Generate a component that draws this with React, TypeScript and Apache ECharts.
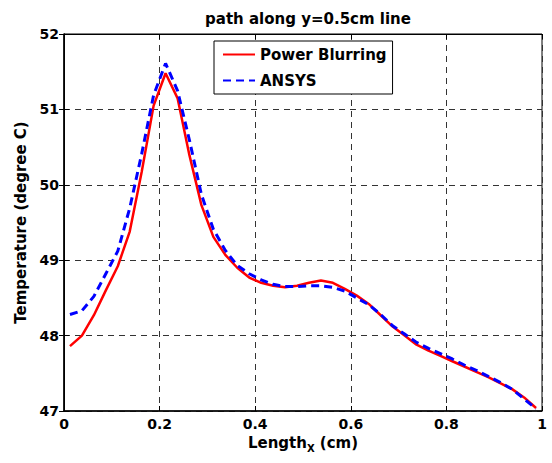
import React, { useEffect, useRef } from "react";
import * as echarts from "echarts";

const xValues = [
  0.0125, 0.0375, 0.0625, 0.0875, 0.1125, 0.1375, 0.1625, 0.1875, 0.2125, 0.2375,
  0.2625, 0.2875, 0.3125, 0.3375, 0.3625, 0.3875, 0.4125, 0.4375, 0.4625, 0.4875,
  0.5125, 0.5375, 0.5625, 0.5875, 0.6125, 0.6375, 0.6625, 0.6875, 0.7125, 0.7375,
  0.7625, 0.7875, 0.8125, 0.8375, 0.8625, 0.8875, 0.9125, 0.9375, 0.9625, 0.9875,
];

const powerBlurring = [
  47.86, 48.0, 48.27, 48.6, 48.92, 49.38, 50.17, 51.05, 51.48, 51.15,
  50.39, 49.73, 49.31, 49.07, 48.9, 48.77, 48.7, 48.66, 48.64, 48.66,
  48.7, 48.73, 48.7, 48.62, 48.53, 48.42, 48.27, 48.12, 48.0, 47.88,
  47.8, 47.73, 47.66, 47.59, 47.52, 47.45, 47.37, 47.29, 47.18, 47.04,
];

const ansys = [
  48.28, 48.33, 48.52, 48.82, 49.12, 49.69, 50.41, 51.19, 51.61, 51.25,
  50.59, 49.87, 49.41, 49.13, 48.93, 48.82, 48.74, 48.68, 48.65, 48.65,
  48.66, 48.66, 48.64, 48.59, 48.5, 48.41, 48.28, 48.13, 48.02, 47.91,
  47.83, 47.76, 47.69, 47.61, 47.54, 47.46, 47.38, 47.29, 47.16, 47.03,
];

const seriesNames = ["Power Blurring", "ANSYS"];
const titleText = "path along y=0.5cm line";
const yName = "Temperature (degree C)";

const FONT = "'DejaVu Sans', 'Liberation Sans', Arial, sans-serif";

export default function App() {
  const ref = useRef<HTMLDivElement>(null);
  useEffect(() => {
    if (!ref.current) return;
    const chart = echarts.init(ref.current, undefined, { renderer: "svg" });
    const gridLine = { show: true, lineStyle: { color: "#333", type: [6, 5] as any, width: 1 } };
    const tickStyle = { show: true, inside: true, length: 5, lineStyle: { color: "#000", width: 1 } };
    chart.setOption({
      animation: false,
      backgroundColor: "#fff",
      title: {
        text: titleText,
        left: 303,
        textAlign: "center",
        top: 6,
        textStyle: { fontFamily: FONT, fontWeight: "bold", fontSize: 15, color: "#000" },
      },
      grid: {
        left: 64,
        top: 34,
        right: 10,
        bottom: 52,
        show: true,
        borderColor: "#000",
        borderWidth: 1,
      },
      legend: {
        data: seriesNames,
        orient: "vertical",
        left: 214,
        top: 41,
        backgroundColor: "#fff",
        borderColor: "#000",
        borderWidth: 1,
        borderRadius: 0,
        padding: [6, 6, 6, 8],
        itemWidth: 32,
        itemHeight: 14,
        itemGap: 11,
        itemStyle: { opacity: 0 },
        textStyle: { fontFamily: FONT, fontWeight: "bold", fontSize: 15, color: "#000" },
      },
      xAxis: [
        {
          type: "value",
          min: 0,
          max: 1,
          interval: 0.2,
          name: "{a|Length}{b|X}{a| (cm)}",
          nameLocation: "middle",
          nameGap: 20,
          nameTextStyle: {
            rich: {
              a: { fontFamily: FONT, fontWeight: "bold", fontSize: 15, color: "#000", verticalAlign: "top" },
              b: { fontFamily: FONT, fontWeight: "bold", fontSize: 10, color: "#000", verticalAlign: "top", padding: [8, 0, 0, 0] },
            },
          },
          axisLine: { show: true, onZero: false, lineStyle: { color: "#000", width: 1.5 } },
          axisTick: tickStyle,
          axisLabel: {
            fontFamily: FONT,
            fontWeight: "bold",
            fontSize: 14,
            color: "#000",
            margin: 6,
            formatter: (v: number) => (v === 0 || v === 1 ? String(v) : v.toFixed(1)),
          },
          splitLine: gridLine,
        },
        {
          type: "value",
          position: "top",
          min: 0,
          max: 1,
          interval: 0.2,
          axisLine: { show: true, lineStyle: { color: "#000", width: 1 } },
          axisTick: tickStyle,
          axisLabel: { show: false },
          splitLine: { show: false },
        },
      ],
      yAxis: [
        {
          type: "value",
          min: 47,
          max: 52,
          interval: 1,
          name: yName,
          nameLocation: "middle",
          nameGap: 28,
          nameTextStyle: { fontFamily: FONT, fontWeight: "bold", fontSize: 15, color: "#000" },
          axisLine: { show: true, lineStyle: { color: "#000", width: 1.5 } },
          axisTick: tickStyle,
          axisLabel: { fontFamily: FONT, fontWeight: "bold", fontSize: 14, color: "#000", margin: 5 },
          splitLine: gridLine,
        },
        {
          type: "value",
          position: "right",
          min: 47,
          max: 52,
          interval: 1,
          axisLine: { show: true, lineStyle: { color: "#000", width: 1 } },
          axisTick: tickStyle,
          axisLabel: { show: false },
          splitLine: { show: false },
        },
      ],
      series: [
        {
          name: seriesNames[0],
          type: "line",
          data: xValues.map((x, i) => [x, powerBlurring[i]]),
          symbol: "none",
          smooth: false,
          lineStyle: { color: "#ff0000", width: 2.5 },
          itemStyle: { color: "#ff0000" },
          z: 2,
        },
        {
          name: seriesNames[1],
          type: "line",
          data: xValues.map((x, i) => [x, ansys[i]]),
          symbol: "none",
          smooth: false,
          lineStyle: { color: "#0000ff", width: 3, type: [8, 5] as any },
          itemStyle: { color: "#0000ff" },
          z: 3,
        },
      ],
    });
    return () => chart.dispose();
  }, []);
  return <div ref={ref} style={{ width: 552, height: 463, position: "absolute", left: 0, top: 0 }} />;
}
